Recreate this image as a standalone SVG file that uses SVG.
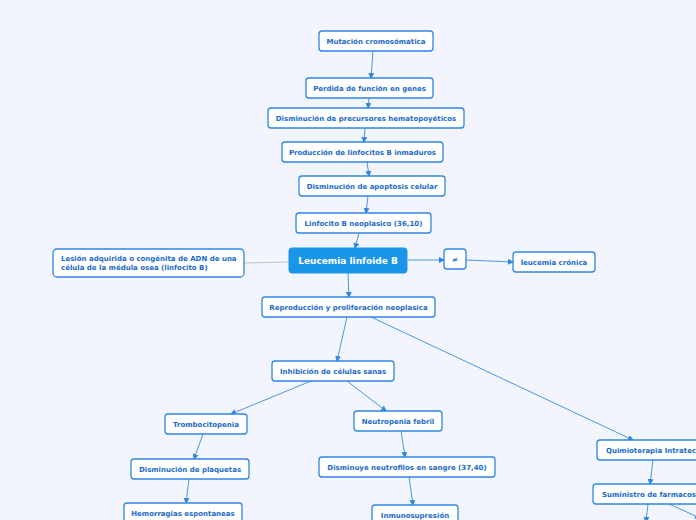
<svg xmlns="http://www.w3.org/2000/svg" width="696" height="520" viewBox="0 0 696 520">
<defs>
<marker id="ah" markerWidth="6" markerHeight="6" refX="5" refY="3" orient="auto" markerUnits="userSpaceOnUse">
<path d="M0,0 L6,3 L0,6 Z" fill="#2f86e0"/>
</marker>
<style>
.n rect{fill:#ffffff;stroke:#2f86e0;stroke-width:1.3}
.n text{font-family:"DejaVu Sans",Verdana,sans-serif;font-weight:bold;font-size:7px;fill:#1a6acb;text-anchor:middle}
.c rect{fill:#1a96e8;stroke:#1a96e8}
.c text{font-family:"DejaVu Sans",Verdana,sans-serif;font-weight:bold;font-size:9px;fill:#ffffff;text-anchor:middle}
.e line{stroke:#4a95e6;stroke-width:1;marker-end:url(#ah)}
.e line.g{stroke:#b8c2cc;marker-end:none}
</style>
</defs>
<rect width="696" height="520" fill="#f2f5fd"/>
<g class="e" id="connectors">
<line x1="373" y1="51" x2="371" y2="78"/>
<line x1="369" y1="98" x2="368" y2="108"/>
<line x1="365" y1="128" x2="364" y2="142"/>
<line x1="367" y1="162" x2="369" y2="176"/>
<line x1="368" y1="196" x2="366" y2="213"/>
<line x1="359" y1="233" x2="355" y2="248"/>
<line x1="348" y1="273" x2="349" y2="297"/>
<line x1="408" y1="260" x2="444" y2="260"/>
<line x1="466" y1="260" x2="513" y2="262"/>
<line class="g" x1="244" y1="263" x2="289" y2="262"/>
<line x1="347" y1="317" x2="337" y2="361"/>
<line x1="371" y1="317" x2="633" y2="440"/>
<line x1="311" y1="381" x2="231" y2="414"/>
<line x1="347" y1="381" x2="386" y2="411"/>
<line x1="203" y1="434" x2="194" y2="459"/>
<line x1="401" y1="431" x2="405" y2="457"/>
<line x1="189" y1="479" x2="186" y2="503"/>
<line x1="409" y1="477" x2="413" y2="505"/>
<line x1="653" y1="460" x2="650" y2="484"/>
<line x1="648" y1="504" x2="646" y2="522"/>
<line x1="669" y1="504" x2="700" y2="518"/>
</g>
<g class="n" id="n1"><rect x="319" y="31" width="114" height="20" rx="3"/><text x="376" y="43.5">Mutación cromosómatica</text></g>
<g class="n" id="n2"><rect x="306" y="78" width="127" height="20" rx="3"/><text x="369.5" y="90.5">Perdida de función en genes</text></g>
<g class="n" id="n3"><rect x="268" y="108" width="196" height="20" rx="3"/><text x="366" y="120.5">Disminución de precursores hematopoyéticos</text></g>
<g class="n" id="n4"><rect x="282" y="142" width="161" height="20" rx="3"/><text x="362.5" y="154.5">Producción de linfocitos B inmaduros</text></g>
<g class="n" id="n5"><rect x="299" y="176" width="146" height="20" rx="3"/><text x="372" y="188.5">Disminución de apoptosis celular</text></g>
<g class="n" id="n6"><rect x="296" y="213" width="135" height="20" rx="3"/><text x="363.5" y="225.5">Linfocito B neoplasico (36,10)</text></g>
<g class="c" id="n7"><rect x="289" y="248" width="118" height="25" rx="3"/><text x="348" y="264">Leucemia linfoide B</text></g>
<g class="n" id="n8"><rect x="53" y="249" width="191" height="28" rx="4"/><text x="61" y="261" style="text-anchor:start">Lesión adquirida o congénita de ADN de una</text><text x="61" y="270" style="text-anchor:start">célula de la médula osea (linfocito B)</text></g>
<g class="n" id="n9"><rect x="444" y="249" width="22" height="20" rx="3"/><text x="455" y="261.5">≠</text></g>
<g class="n" id="n10"><rect x="513" y="252" width="82" height="20" rx="3"/><text x="554" y="264.5">leucemia crónica</text></g>
<g class="n" id="n11"><rect x="262" y="297" width="173" height="20" rx="3"/><text x="348.5" y="309.5">Reproducción y proliferación neoplasica</text></g>
<g class="n" id="n12"><rect x="272" y="361" width="122" height="20" rx="3"/><text x="333" y="373.5">Inhibición de células sanas</text></g>
<g class="n" id="n13"><rect x="165" y="414" width="82" height="20" rx="3"/><text x="206" y="426.5">Trombocitopenia</text></g>
<g class="n" id="n14"><rect x="354" y="411" width="88" height="20" rx="3"/><text x="398" y="423.5">Neutropenia febril</text></g>
<g class="n" id="n15"><rect x="131" y="459" width="118" height="20" rx="3"/><text x="190" y="471.5">Disminución de plaquetas</text></g>
<g class="n" id="n16"><rect x="319" y="457" width="176" height="20" rx="3"/><text x="407" y="469.5">Disminuye neutrofilos en sangre (37,40)</text></g>
<g class="n" id="n17"><rect x="124" y="503" width="118" height="20" rx="3"/><text x="183" y="515.5">Hemorragias espontaneas</text></g>
<g class="n" id="n18"><rect x="372" y="505" width="86" height="20" rx="3"/><text x="415" y="517.5">Inmunosupresión</text></g>
<g class="n" id="n19"><rect x="597" y="440" width="120" height="20" rx="3"/><text x="606" y="452.5" style="text-anchor:start">Quimioterapia Intratecal</text></g>
<g class="n" id="n20"><rect x="593" y="484" width="110" height="20" rx="3"/><text x="602" y="496.5" style="text-anchor:start">Suministro de farmacos</text></g>
</svg>
